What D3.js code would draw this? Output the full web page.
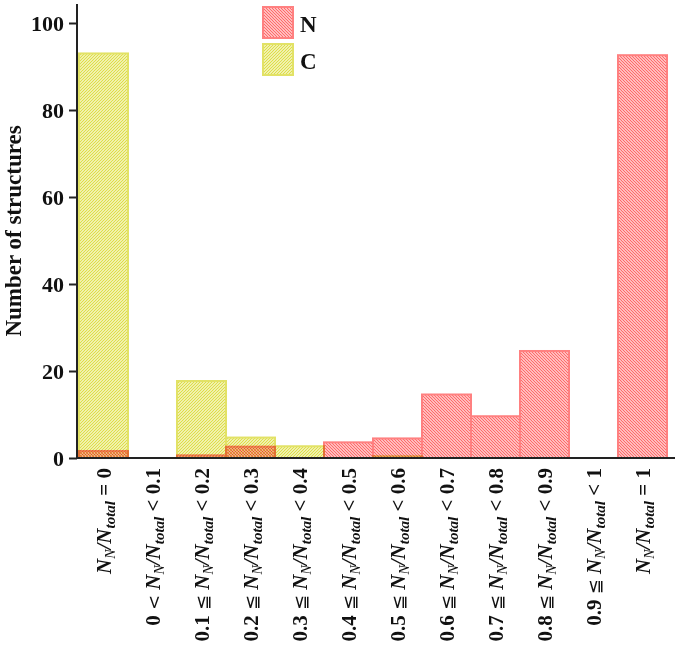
<!DOCTYPE html>
<html>
<head>
<meta charset="utf-8">
<script src="https://cdn.jsdelivr.net/npm/d3@7"></script>
<style>
  body { margin: 0; background: #fff; }
  text { font-family: "Liberation Serif", "Times New Roman", serif; font-weight: bold; }
</style>
</head>
<body>
<div id="chart"></div>
<script>
// bins of N_N/N_total
const labelPre = ['', '0 <', '0.1 ≦', '0.2 ≦', '0.3 ≦', '0.4 ≦', '0.5 ≦', '0.6 ≦', '0.7 ≦', '0.8 ≦', '0.9 ≦', ''];
const labelPost = ['= 0', '< 0.1', '< 0.2', '< 0.3', '< 0.4', '< 0.5', '< 0.6', '< 0.7', '< 0.8', '< 0.9', '< 1', '= 1'];
const categories = labelPre.map((d, i) => 'bin' + i);
const cValues = [93, 0, 17.7, 4.7, 2.7, 0, 0.4, 0, 0, 0, 0, 0];
const nValues = [1.6, 0, 0.6, 2.6, 0, 3.6, 4.5, 14.6, 9.6, 24.6, 0, 92.6];
const yTicks = [0, 20, 40, 60, 80, 100];
const seriesNames = ['N', 'C'];

const width = 675, height = 649;
const margin = {left: 79, right: 8, top: 23, bottom: 191};

const svg = d3.select('#chart').append('svg')
    .attr('width', width)
    .attr('height', height);

const defs = svg.append('defs');
// hatch patterns, 3px tiles
const hatch = (id, color, d) => {
    defs.append('pattern')
        .attr('id', id)
        .attr('patternUnits', 'userSpaceOnUse')
        .attr('width', 3).attr('height', 3)
      .append('path')
        .attr('d', d)
        .attr('stroke', color)
        .attr('stroke-width', 1.3)
        .attr('stroke-linecap', 'square');
};
hatch('hatchN', '#ff6a6a', 'M0,0L3,3M-1,2L1,4M2,-1L4,1');
hatch('hatchC', '#dede48', 'M0,3L3,0M-1,1L1,-1M2,4L4,2');

const xScale = d3.scaleBand()
    .domain(categories)
    .range([margin.left, width - margin.right])
    .padding(0);

const yScale = d3.scaleLinear()
    .domain([0, 100])
    .range([height - margin.bottom, margin.top]);

const colors = {N: {stroke: '#ff8080', fill: 'url(#hatchN)'}, C: {stroke: '#e2e266', fill: 'url(#hatchC)'}};

// C bars underneath, N on top with multiply so overlaps turn orange
const barsG = svg.append('g');
[['C', cValues], ['N', nValues]].forEach(([key, vals]) => {
    barsG.append('g')
        .style('mix-blend-mode', 'multiply')
      .selectAll('rect')
      .data(vals.map((v, i) => ({cat: categories[i], v})).filter(d => d.v > 0))
      .join('rect')
        .attr('x', d => xScale(d.cat))
        .attr('y', d => yScale(d.v))
        .attr('width', xScale.bandwidth())
        .attr('height', d => yScale(0) - yScale(d.v))
        .attr('fill', '#fff')
        .clone()
        .attr('fill', colors[key].fill)
        .attr('stroke', colors[key].stroke)
        .attr('stroke-width', 2);
});

// y axis
const yAxis = d3.axisLeft(yScale).tickValues(yTicks).tickSize(8).tickPadding(5);
const yAxisG = svg.append('g')
    .attr('transform', `translate(${margin.left - 2}, 0)`)
    .call(yAxis);
yAxisG.select('.domain').remove();
yAxisG.selectAll('.tick line').attr('stroke', '#222').attr('stroke-width', 2);
yAxisG.selectAll('.tick text')
    .attr('font-size', 22)
    .attr('fill', '#111')
    .style('font-family', '"Liberation Serif", serif')
    .style('font-weight', 'bold');
svg.append('line')
    .attr('x1', margin.left - 2).attr('x2', margin.left - 2)
    .attr('y1', 4).attr('y2', yScale(0) + 1)
    .attr('stroke', '#222').attr('stroke-width', 2);
svg.append('line')
    .attr('x1', margin.left - 3).attr('x2', width)
    .attr('y1', yScale(0)).attr('y2', yScale(0))
    .attr('stroke', '#222').attr('stroke-width', 2);

svg.append('text')
    .attr('transform', `translate(21, 231) rotate(-90)`)
    .attr('text-anchor', 'middle')
    .attr('font-size', 23)
    .attr('fill', '#111')
    .text('Number of structures');

// x labels, rotated
const xLab = svg.append('g').selectAll('text')
    .data(categories)
    .join('text')
    .attr('transform', d => `translate(${xScale(d) + xScale.bandwidth() / 2 + 7}, 468) rotate(-90)`)
    .attr('text-anchor', 'end')
    .attr('font-size', 21)
    .attr('fill', '#111');
xLab.each(function(d, i) {
    const t = d3.select(this);
    if (labelPre[i]) {
        const parts = labelPre[i].split(' ');
        t.append('tspan').text(parts[0] + ' ');
        t.append('tspan').attr('font-weight', 'normal')
            .style('font-family', '"DejaVu Sans", sans-serif').attr('font-size', 18)
            .text(parts[1]);
        t.append('tspan').text(' ');
    }
    t.append('tspan').attr('font-style', 'italic').text('N');
    t.append('tspan').attr('font-style', 'italic').attr('font-weight', 'normal')
        .attr('font-size', 14).attr('dy', 4).text('N');
    t.append('tspan').attr('font-style', 'italic').attr('dy', -4).text('/N');
    t.append('tspan').attr('font-style', 'italic')
        .attr('font-size', 15).attr('dy', 4).text('total');
    t.append('tspan').attr('dy', -4).text(' ' + labelPost[i]);
});

// legend
const legend = svg.append('g');
seriesNames.forEach((s, i) => {
    const y0 = 7 + i * 37;
    legend.append('rect')
        .attr('x', 263).attr('y', y0)
        .attr('width', 30).attr('height', 31)
        .attr('fill', colors[s].fill)
        .attr('stroke', colors[s].stroke)
        .attr('stroke-width', 2);
    legend.append('text')
        .attr('x', 300).attr('y', y0 + 25)
        .attr('font-size', 23)
        .attr('fill', '#111')
        .text(s);
});
</script>
</body>
</html>
